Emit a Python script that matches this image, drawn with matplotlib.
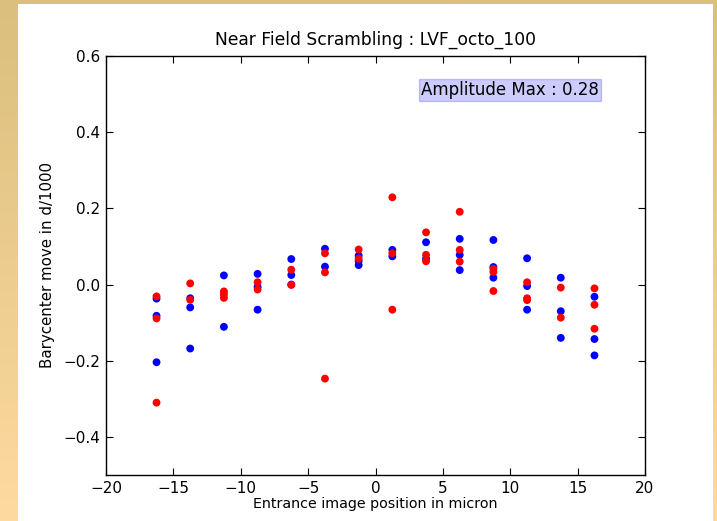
import numpy as np
import matplotlib
matplotlib.use("Agg")
import matplotlib.pyplot as plt
from matplotlib.patches import Rectangle

# ---- data ----
blue_x = [-16.25, -16.25, -16.25,
          -13.75, -13.75, -13.75,
          -11.25, -11.25,
          -8.75, -8.75, -8.75,
          -6.25, -6.25, -6.25,
          -3.75, -3.75,
          -1.25, -1.25, -1.25,
          1.25, 1.25,
          3.75, 3.75,
          6.25, 6.25, 6.25,
          8.75, 8.75, 8.75,
          11.25, 11.25, 11.25,
          13.75, 13.75, 13.75,
          16.25, 16.25, 16.25]
blue_y = [-0.037, -0.082, -0.204,
          -0.036, -0.060, -0.168,
          0.024, -0.111,
          0.028, -0.006, -0.066,
          0.067, 0.025, 0.000,
          0.094, 0.047,
          0.076, 0.062, 0.051,
          0.091, 0.074,
          0.111, 0.068,
          0.120, 0.078, 0.038,
          0.117, 0.046, 0.018,
          0.069, -0.004, -0.066,
          0.018, -0.070, -0.140,
          -0.032, -0.143, -0.186]
red_x = [-16.25, -16.25, -16.25,
         -13.75, -13.75,
         -11.25, -11.25, -11.25,
         -8.75, -8.75,
         -6.25, -6.25,
         -3.75, -3.75, -3.75,
         -1.25, -1.25,
         1.25, 1.25, 1.25,
         3.75, 3.75, 3.75,
         6.25, 6.25, 6.25,
         8.75, 8.75, 8.75,
         11.25, 11.25, 11.25,
         13.75, 13.75,
         16.25, 16.25, 16.25]
red_y = [-0.031, -0.089, -0.310,
         0.003, -0.040,
         -0.018, -0.026, -0.035,
         0.006, -0.013,
         0.039, -0.001,
         0.082, 0.032, -0.247,
         0.092, 0.068,
         0.229, 0.082, -0.066,
         0.137, 0.078, 0.061,
         0.191, 0.091, 0.060,
         0.041, 0.033, -0.017,
         0.006, -0.036, -0.041,
         -0.008, -0.087,
         -0.010, -0.053, -0.116]

title = "Near Field Scrambling : LVF_octo_100"
xlabel = "Entrance image position in micron"
ylabel = "Barycenter move in d/1000"
annot = "Amplitude Max : 0.28"
xticks = [-20, -15, -10, -5, 0, 5, 10, 15, 20]
yticks = [-0.4, -0.2, 0.0, 0.2, 0.4, 0.6]

W, H = 717, 521
fig = plt.figure(figsize=(W / 100, H / 100), dpi=100)

# background gradient (slide)
bg = fig.add_axes([0, 0, 1, 1])
bg.set_axis_off()
top = np.array([218, 191, 126]) / 255
bot = np.array([254, 218, 160]) / 255
t = np.linspace(0, 1, 256)[:, None]
grad = (top[None, :] * (1 - t) + bot[None, :] * t)[:, None, :]
bg.imshow(grad, aspect='auto', extent=[0, 1, 0, 1], origin='upper')
bg.add_patch(Rectangle((18 / W, 0), (713 - 18) / W, (521 - 4) / H,
                       facecolor='white', edgecolor='none', zorder=2))
bg.set_xlim(0, 1)
bg.set_ylim(0, 1)

ax = fig.add_axes([106 / W, (H - 475) / H, (645 - 106) / W, (475 - 56) / H])
ax.scatter(blue_x, blue_y, s=32, c='blue', edgecolors='none', zorder=3)
ax.scatter(red_x, red_y, s=32, c='red', edgecolors='none', zorder=3)

ax.set_xlim(-20, 20)
ax.set_ylim(-0.5, 0.6)
ax.set_xticks(xticks)
ax.set_yticks(yticks)
ax.set_xticklabels([f"\u2212{abs(v)}" if v < 0 else f"{v}" for v in xticks])
ax.set_yticklabels([f"\u2212{abs(v):.1f}" if v < 0 else f"{v:.1f}" for v in yticks])
ax.tick_params(direction='in', top=True, right=True, length=5, labelsize=11,
               pad=4)
for sp in ax.spines.values():
    sp.set_linewidth(1.0)

ax.set_title(title, fontsize=12.3, pad=8)
ax.set_xlabel(xlabel, fontsize=10.3, labelpad=1)
ax.set_ylabel(ylabel, fontsize=10.8, labelpad=6)

ax.text(3.4, 0.51, annot, fontsize=12, va='center', ha='left',
        bbox=dict(facecolor='blue', alpha=0.2, edgecolor='blue', pad=1.5))

fig.savefig("out.png", dpi=100)
